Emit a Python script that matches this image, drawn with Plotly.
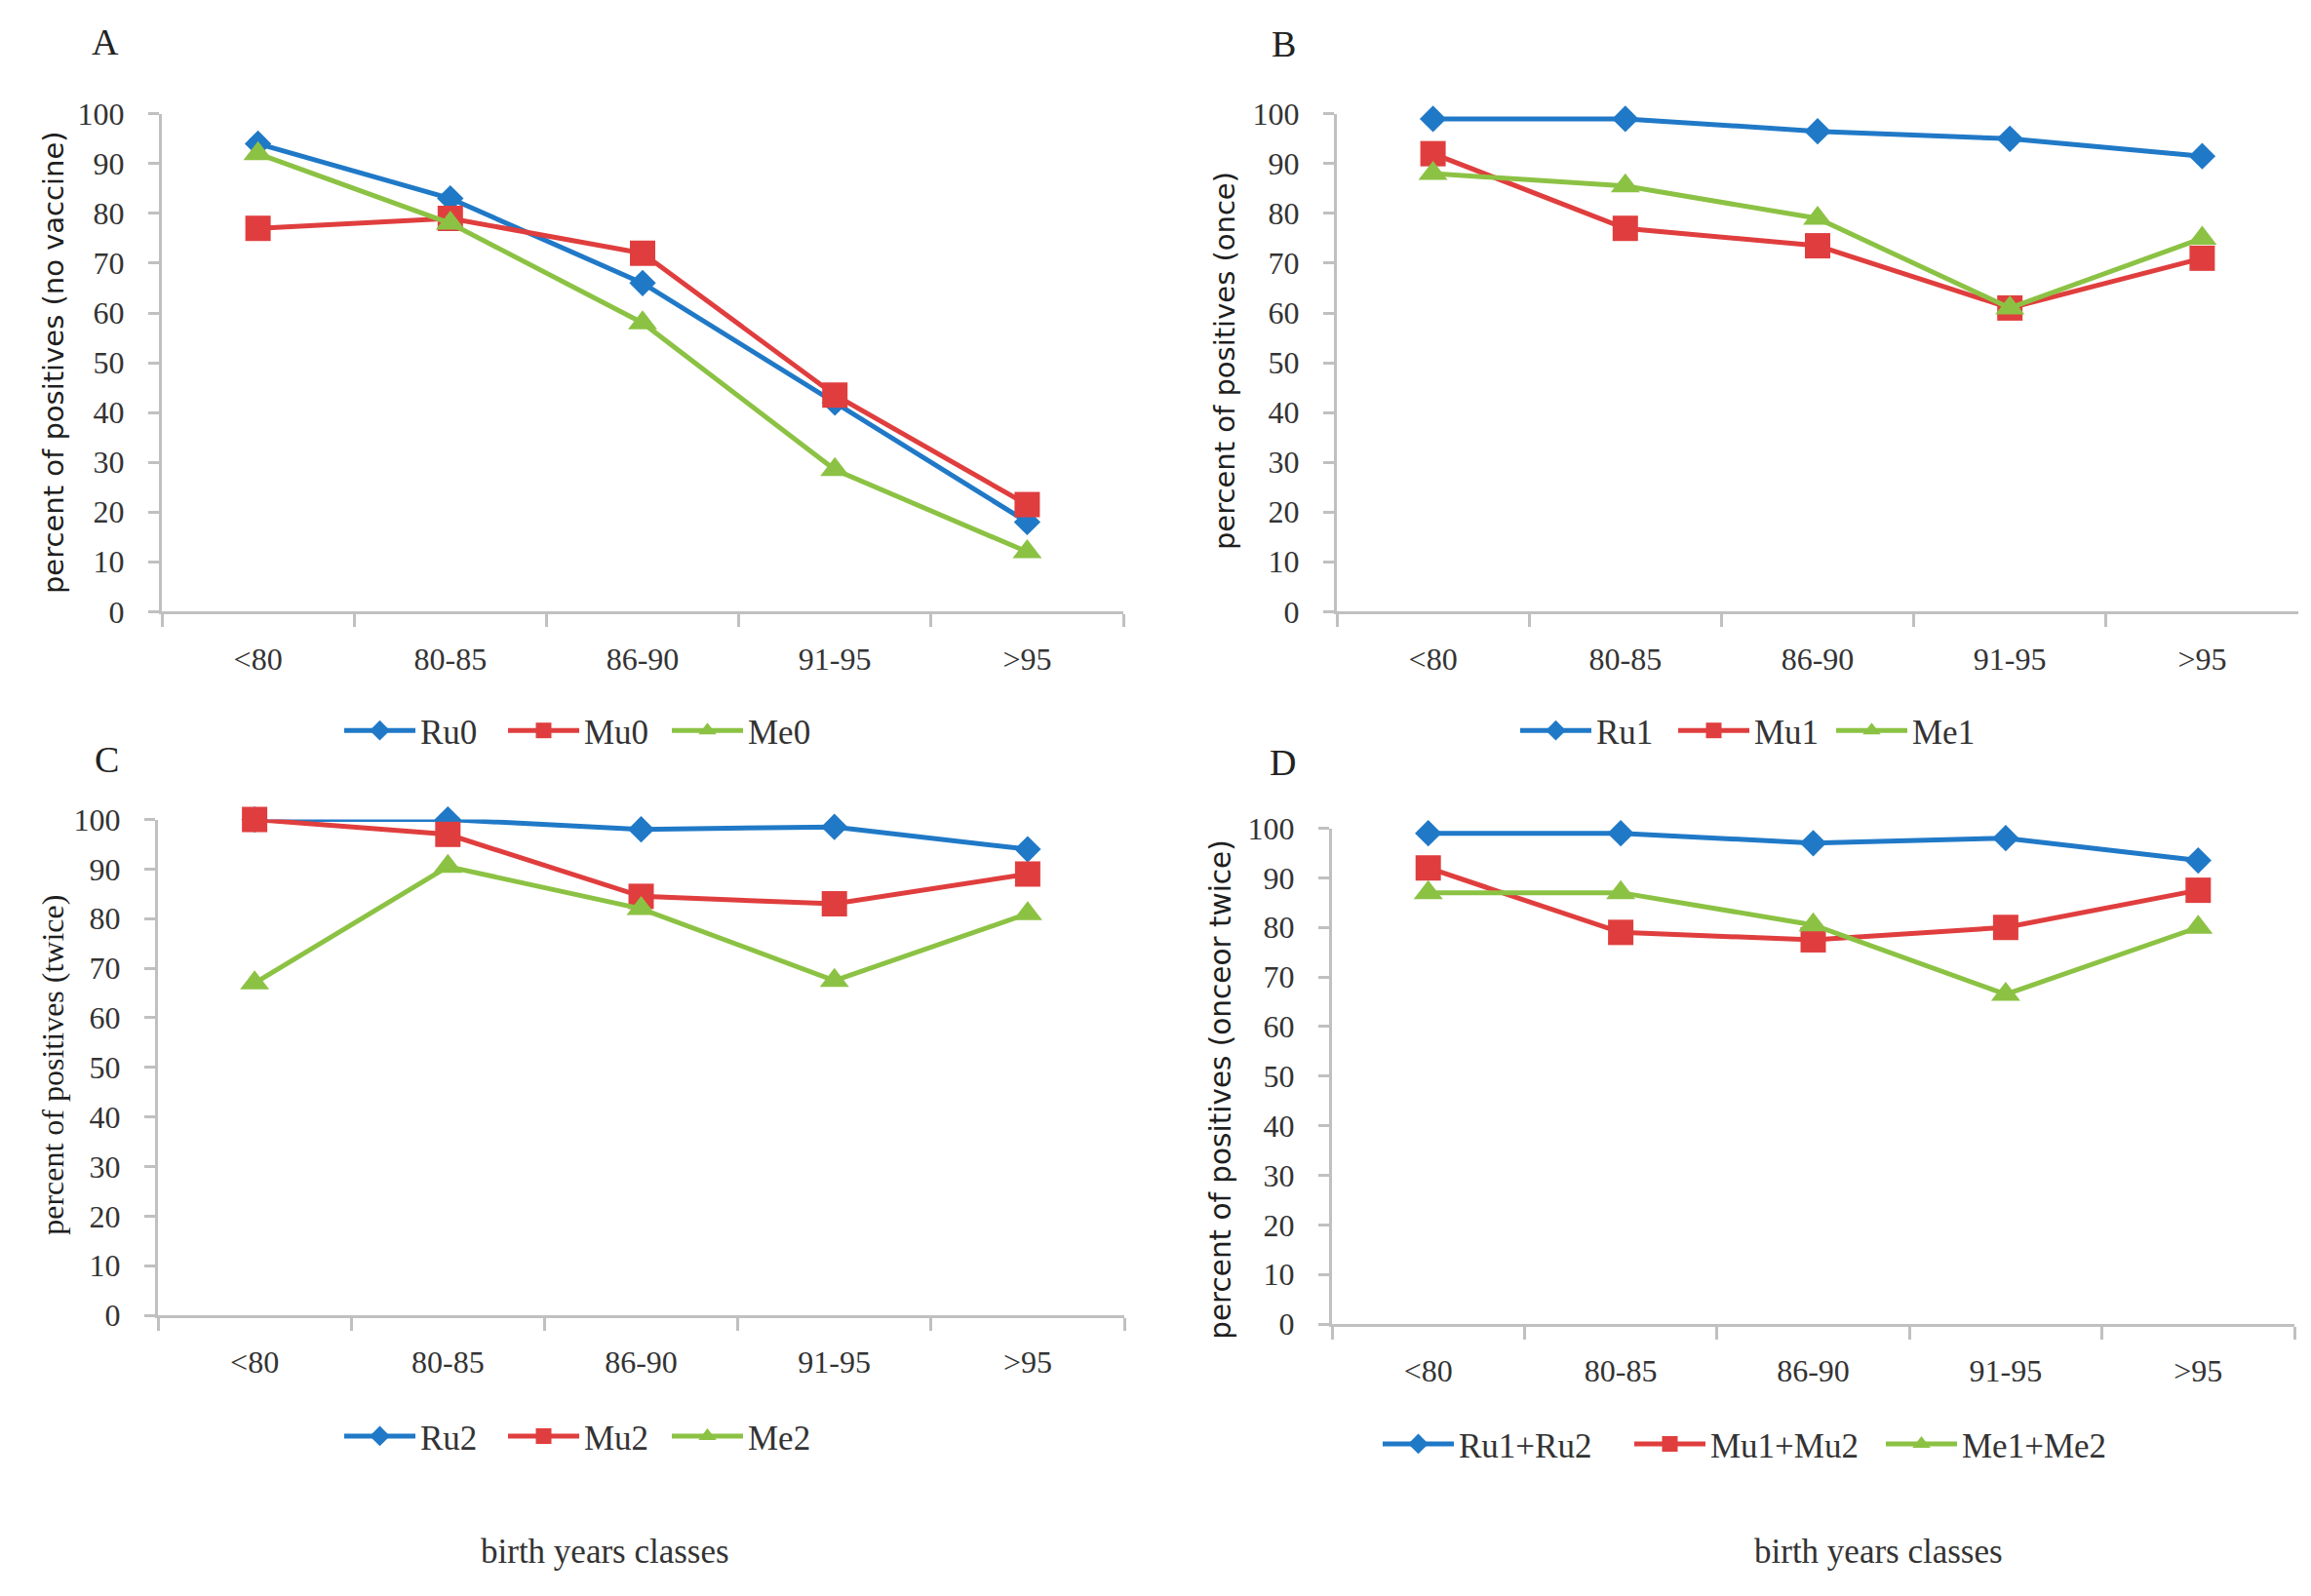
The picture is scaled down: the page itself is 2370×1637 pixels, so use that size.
import plotly.graph_objects as go

categories = ["<80", "80-85", "86-90", "91-95", ">95"]

ru0 = [94, 83, 66, 42, 18]
mu0 = [77, 79, 72, 43.5, 21.5]
me0 = [92, 78, 58, 28.5, 12]

ru1 = [99, 99, 96.5, 95, 91.5]
mu1 = [92, 77, 73.5, 61, 71]
me1 = [88, 85.5, 79, 61, 75]

ru2 = [100, 100, 98, 98.5, 94]
mu2 = [100, 97, 84.5, 83, 89]
me2 = [67, 90.5, 82, 67.5, 81]

ru12 = [99, 99, 97, 98, 93.5]
mu12 = [92, 79, 77.5, 80, 87.5]
me12 = [87, 87, 80.5, 66.5, 80]

panel_letters = ["A", "B", "C", "D"]
y_titles = ["percent of positives (no vaccine)", "percent of positives (once)",
            "percent of positives (twice)", "percent of positives (onceor twice)"]
x_title = "birth years classes"

BLUE = "#2079c7"
RED = "#e03e3e"
GREEN = "#8cc244"
SERIF = "Liberation Serif"
SANS = "DejaVu Sans"
AX = "#c0c0c0"
TXT = "#333333"

panels = [
    (["Ru0", "Mu0", "Me0"], [ru0, mu0, me0]),
    (["Ru1", "Mu1", "Me1"], [ru1, mu1, me1]),
    (["Ru2", "Mu2", "Me2"], [ru2, mu2, me2]),
    (["Ru1+Ru2", "Mu1+Mu2", "Me1+Me2"], [ru12, mu12, me12]),
]

W, H = 2370, 1637


def PX(x):
    return (x - 5) / W


def PY(y):
    return 1 - ((y - 26.3) / 0.977) / H


# plot area boxes in target pixels: (x0, x1, ytop, ybottom)
boxes = [(163, 1149, 117, 627), (1368, 2354, 117, 627),
         (159, 1150, 840, 1348), (1363, 2350, 849, 1357)]
legend_pos = [(355, 749), (1561, 749), (355, 1472), (1420, 1480)]
legend_entry = [80, 74, 80, 170]
letter_pos = [(105, 43), (1313, 45), (106, 779), (1312, 782)]
ytitle_pos = [(52, 372), (1253, 370), (51, 1092), (1249, 1117)]
ytitle_font = [(SANS, 29), (SANS, 29), (SERIF, 32), (SANS, 29.5)]
xtitle_pos = [(617, 1590), (1924, 1590)]

fig = go.Figure()
styles = [(BLUE, "diamond", 21), (RED, "square", 26), (GREEN, "triangle-up", 26)]

for i, (names, series) in enumerate(panels):
    sfx = "" if i == 0 else str(i + 1)
    for (name, vals), (col, sym, sz) in zip(zip(names, series), styles):
        fig.add_trace(go.Scatter(
            x=categories, y=vals, name=name, mode="lines+markers",
            line=dict(color=col, width=5),
            marker=dict(color=col, symbol=sym, size=sz),
            xaxis="x" + sfx, yaxis="y" + sfx,
            legend="legend" + sfx, cliponaxis=False,
        ))
    x0, x1, yt, yb = boxes[i]
    fig.layout["xaxis" + sfx] = dict(
        domain=[PX(x0), PX(x1)], anchor="y" + sfx, type="category",
        range=[-0.5, 4.5], tickson="boundaries", ticks="outside", ticklen=13,
        tickwidth=2.5, tickcolor=AX, showline=True, linecolor=AX, linewidth=3,
        showgrid=False, zeroline=False, ticklabelstandoff=18,
        tickfont=dict(family=SERIF, size=32, color=TXT),
    )
    fig.layout["yaxis" + sfx] = dict(
        domain=[PY(yb), PY(yt)], anchor="x" + sfx,
        range=[0, 100], dtick=10, ticks="outside", ticklen=11,
        tickwidth=2.5, tickcolor=AX, showline=True, linecolor=AX, linewidth=3,
        showgrid=False, zeroline=False, ticklabelstandoff=18,
        tickfont=dict(family=SERIF, size=32, color=TXT),
    )
    lx, ly = legend_pos[i]
    fig.layout["legend" + sfx] = dict(
        x=PX(lx - 10), y=PY(ly), xanchor="left", yanchor="middle",
        orientation="h", font=dict(family=SERIF, size=35, color=TXT),
        bgcolor="rgba(0,0,0,0)", itemwidth=73,
        entrywidth=legend_entry[i], entrywidthmode="pixels",
    )
    px, py = letter_pos[i]
    fig.add_annotation(x=PX(px), y=PY(py), xref="paper", yref="paper",
                       xanchor="center", yanchor="middle",
                       text=panel_letters[i], showarrow=False,
                       font=dict(family=SERIF, size=38, color="#222"))
    tx, ty = ytitle_pos[i]
    fam, fs = ytitle_font[i]
    fig.add_annotation(x=PX(tx), y=PY(ty), xref="paper", yref="paper",
                       xanchor="center", yanchor="middle",
                       text=y_titles[i], textangle=-90, showarrow=False,
                       font=dict(family=fam, size=fs, color="#1f1f1f"))

for tx, ty in xtitle_pos:
    fig.add_annotation(x=PX(tx), y=PY(ty), xref="paper", yref="paper",
                       xanchor="center", yanchor="middle",
                       text=x_title, showarrow=False,
                       font=dict(family=SERIF, size=35, color=TXT))

fig.update_layout(width=W, height=H, margin=dict(l=0, r=0, t=0, b=0),
                  paper_bgcolor="white", plot_bgcolor="white", showlegend=True)

fig.write_html("out.html")
